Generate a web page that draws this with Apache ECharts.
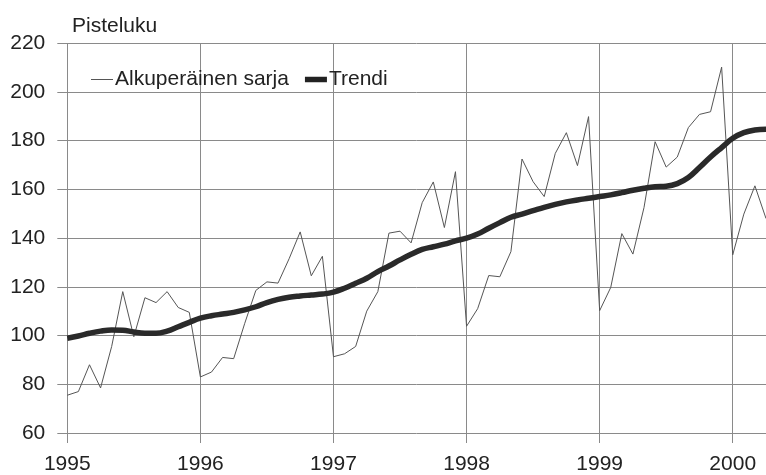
<!DOCTYPE html>
<html>
<head>
<meta charset="utf-8">
<script src="https://cdn.jsdelivr.net/npm/echarts@6/dist/echarts.min.js"></script>
<style>html,body{margin:0;padding:0;background:#fff}#c{width:766px;height:475px}</style>
</head>
<body>
<div id="c"></div>
<script>
// Monthly observations, Jan 1995 .. Apr 2000 (x = months since Jan 1995)
const startYear = 1995;
const yearTicks = ['1995', '1996', '1997', '1998', '1999', '2000'];
const yTicks = [60, 80, 100, 120, 140, 160, 180, 200, 220];
const seriesNames = ['Alkuperäinen sarja', 'Trendi'];
const original = [
  75.5, 77, 88, 78.5, 95.5, 118, 99.5, 115.5, 113.5, 118, 111.5, 109.5,
  83, 85, 91, 90.5, 105, 118.5, 122, 121.5, 131.5, 142.5, 124.5, 132.5,
  91.3, 92.5, 95.5, 110, 118, 142, 142.8, 138, 154.5, 163, 144.3, 167.2,
  103.8, 111, 124.6, 124.1, 134.4, 172.4, 163.1, 157, 174.7, 183.2, 169.7, 189.8,
  110.2, 119.7, 141.8, 133.4, 152.5, 179.5, 169.1, 173.2, 185.3, 190.7, 191.8, 210.1,
  133.1, 149.8, 161.4, 148
];
const trend = [
  98.9, 99.8, 100.9, 101.8, 102.3, 102.2, 101.4, 100.9, 100.9, 101.8, 103.6, 105.4,
  107.1, 108.1, 108.8, 109.5, 110.5, 111.8, 113.5, 114.8, 115.7, 116.2, 116.6, 117,
  117.8, 119.4, 121.4, 123.5, 126.2, 128.5, 131, 133.3, 135.3, 136.4, 137.5, 138.8,
  139.9, 141.6, 144, 146.3, 148.5, 149.8, 151.2, 152.6, 153.8, 154.8, 155.6, 156.3,
  157, 157.7, 158.6, 159.6, 160.4, 161, 161.2, 162.3, 164.8, 168.9, 173.2, 177.1,
  180.9, 183.2, 184.3, 184.6
];

const toXY = arr => arr.map((v, i) => [i, v]);
const FONT = '"Liberation Sans", Arial, Helvetica, sans-serif';
const TXT = '#222';
const GRID = '#8a8a8a';

const chart = echarts.init(document.getElementById('c'), null, {renderer: 'canvas'});
chart.setOption({
  animation: false,
  backgroundColor: '#fff',
  textStyle: {fontFamily: FONT},
  title: {
    text: 'Pisteluku', left: 67, top: 11,
    textStyle: {fontFamily: FONT, fontSize: 21, fontWeight: 'normal', color: TXT}
  },
  legend: {
    left: 86, top: 64, itemGap: 16, itemWidth: 22, itemHeight: 14,
    textStyle: {fontFamily: FONT, fontSize: 21, color: TXT, padding: [0, 0, 0, -3]},
    data: [
      {name: seriesNames[0], icon: 'path://M0,0H22V1H0Z', itemStyle: {color: '#555'}},
      {name: seriesNames[1], icon: 'path://M0,0H20V5H0Z', itemStyle: {color: '#222'}}
    ]
  },
  grid: {left: 67.3, right: -4.8, top: 43, bottom: 42, containLabel: false},
  xAxis: {
    type: 'value', min: 0, max: 63, interval: 12,
    axisLine: {show: false},
    axisTick: {show: true, length: 10, lineStyle: {color: GRID, width: 1}},
    splitLine: {show: true, lineStyle: {color: GRID, width: 1}},
    axisLabel: {
      show: true, margin: 21, fontSize: 21, color: TXT, fontFamily: FONT,
      showMaxLabel: false,
      formatter: v => (v % 12 === 0 ? yearTicks[v / 12] : '')
    }
  },
  yAxis: {
    type: 'value', min: yTicks[0], max: yTicks[yTicks.length - 1], interval: 20,
    axisLine: {show: false},
    axisTick: {show: true, length: 10, lineStyle: {color: GRID, width: 1}},
    splitLine: {show: true, lineStyle: {color: GRID, width: 1}},
    axisLabel: {margin: 22, fontSize: 21, color: TXT, fontFamily: FONT, padding: [3, 0, 0, 0]}
  },
  series: [
    {
      name: seriesNames[0], type: 'line', data: toXY(original),
      showSymbol: false, symbol: 'none', z: 2,
      lineStyle: {color: '#555', width: 1}
    },
    {
      name: seriesNames[1], type: 'line', data: toXY(trend),
      showSymbol: false, symbol: 'none', smooth: 0.4, z: 3,
      lineStyle: {color: '#2a2a2a', width: 5.5}
    }
  ]
});
</script>
</body>
</html>
